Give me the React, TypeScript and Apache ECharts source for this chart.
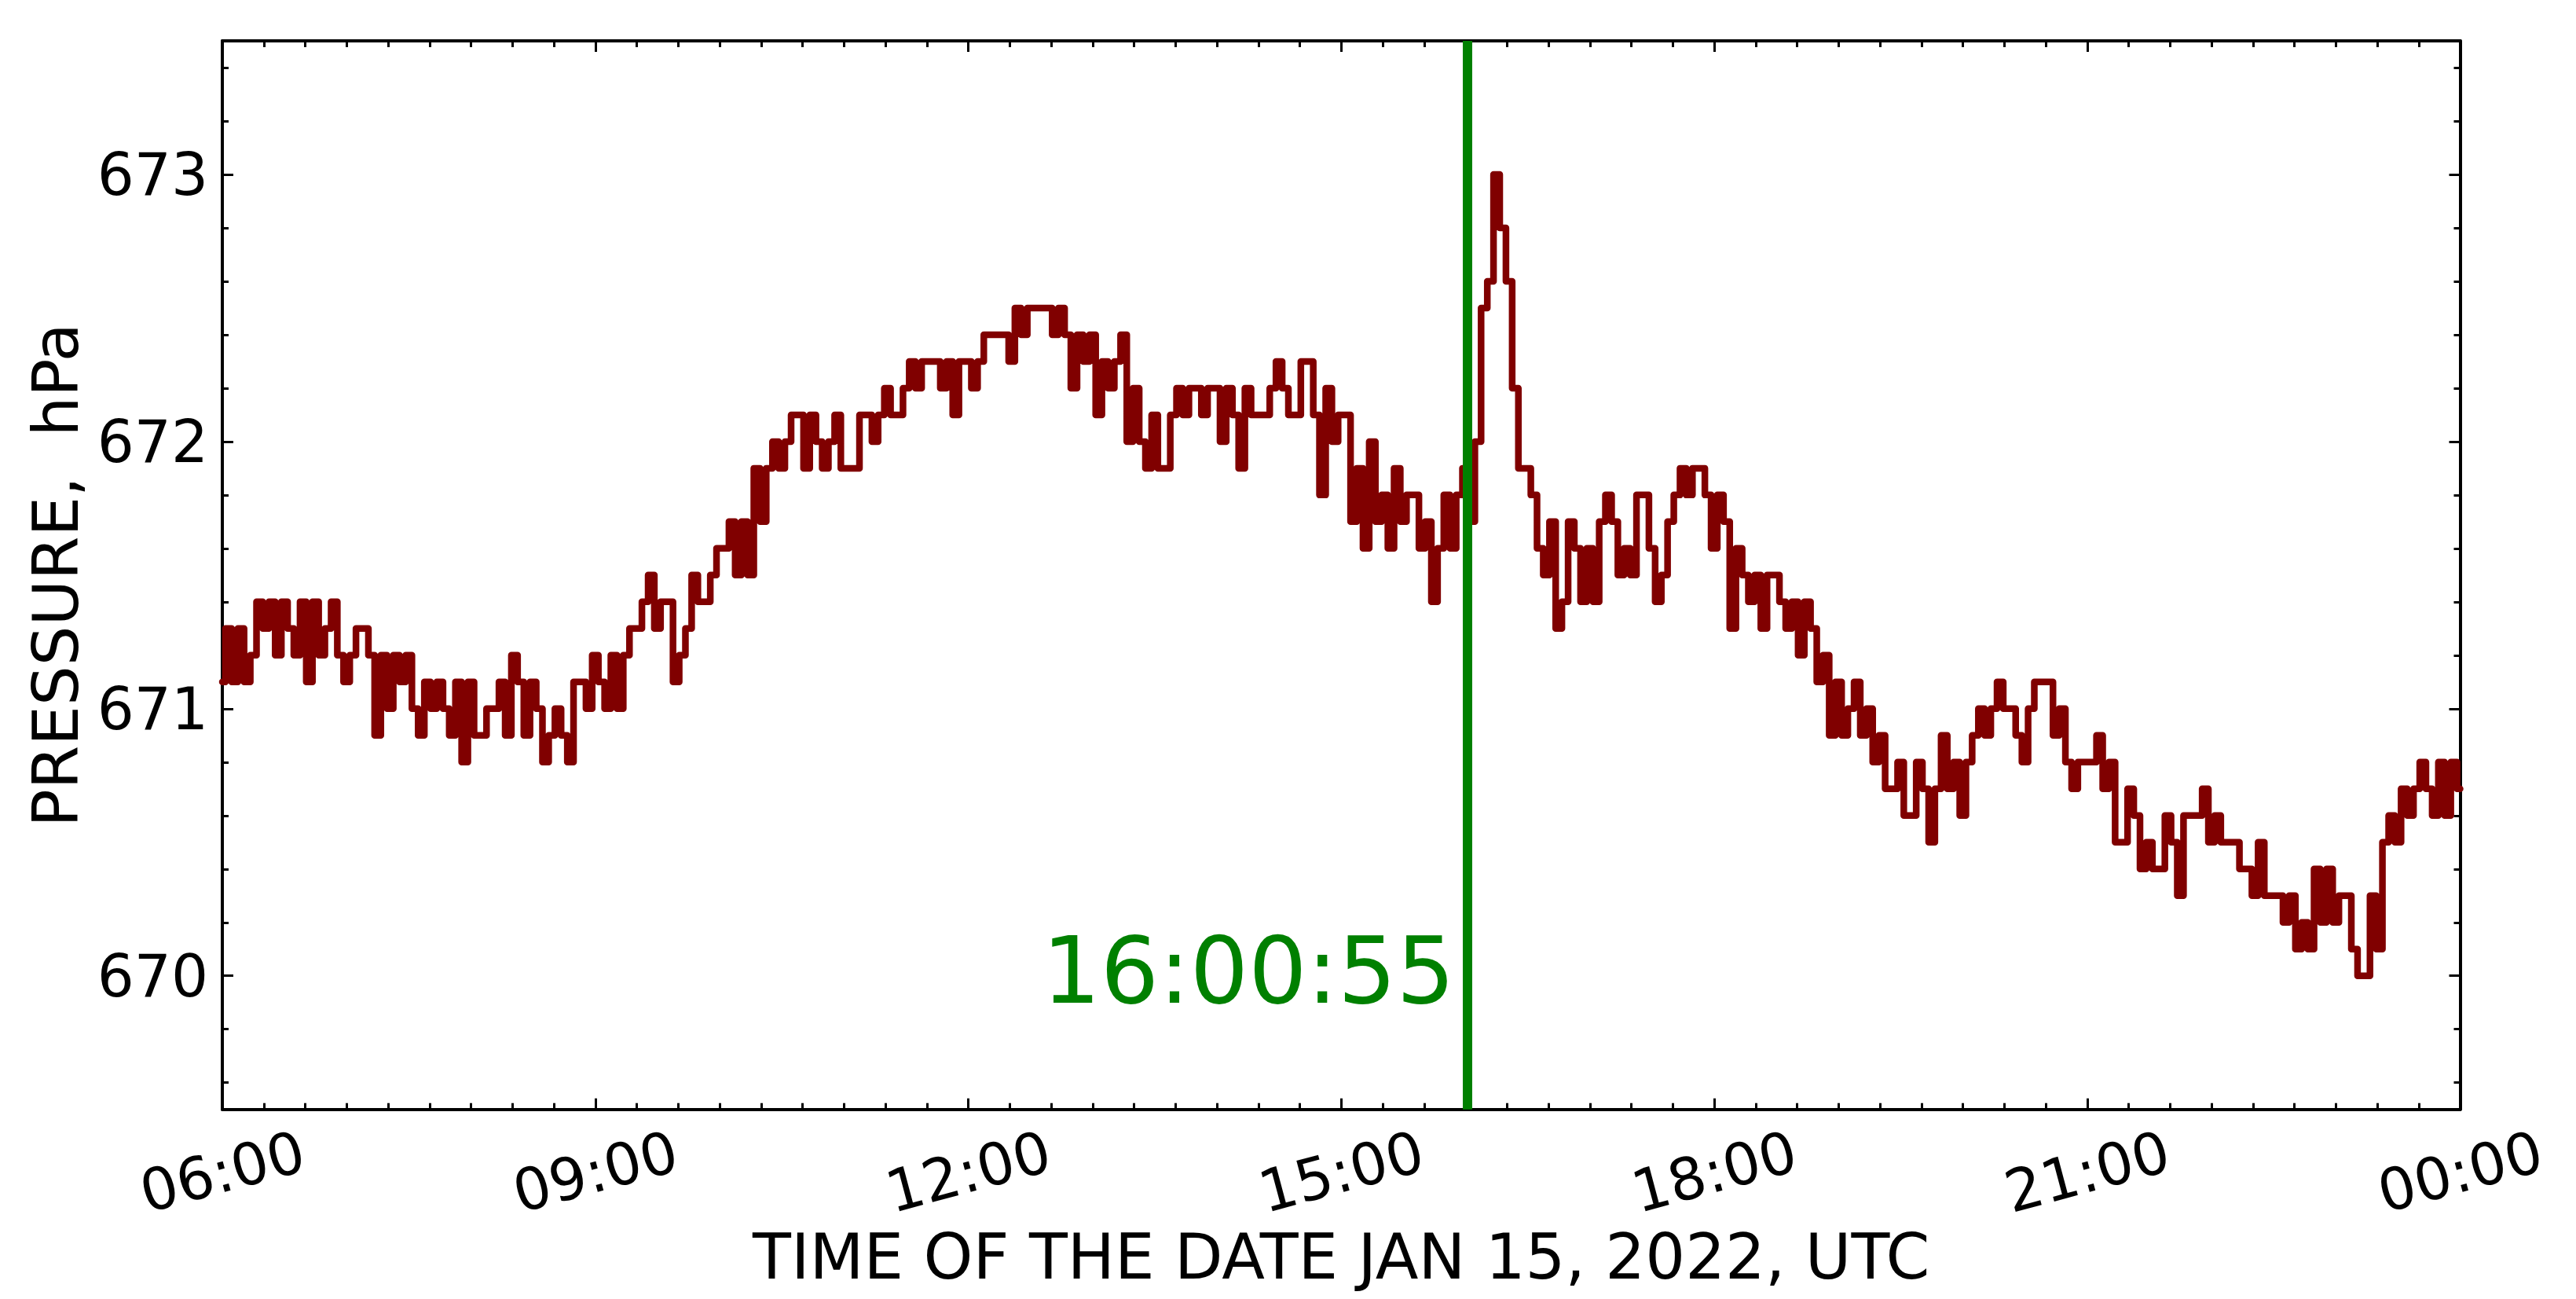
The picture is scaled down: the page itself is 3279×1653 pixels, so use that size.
import React, { useEffect, useRef } from "react";
import * as echarts from "echarts";

// ---- data: surface pressure (hPa), sampled every 3 minutes from 06:00 UTC ----
const START_HOUR = 6;
const SAMPLE_MIN = 3;

const h06 = [671.1, 671.3, 671.1, 671.3, 671.1, 671.2, 671.4, 671.3, 671.4, 671.2, 671.4, 671.3, 671.2, 671.4, 671.1, 671.4, 671.2, 671.3, 671.4, 671.2];
const h07 = [671.1, 671.2, 671.3, 671.3, 671.2, 670.9, 671.2, 671.0, 671.2, 671.1, 671.2, 671.0, 670.9, 671.1, 671.0, 671.1, 671.0, 670.9, 671.1, 670.8];
const h08 = [671.1, 670.9, 670.9, 671.0, 671.0, 671.1, 670.9, 671.2, 671.1, 670.9, 671.1, 671.0, 670.8, 670.9, 671.0, 670.9, 670.8, 671.1, 671.1, 671.0];
const h09 = [671.2, 671.1, 671.0, 671.2, 671.0, 671.2, 671.3, 671.3, 671.4, 671.5, 671.3, 671.4, 671.4, 671.1, 671.2, 671.3, 671.5, 671.4, 671.4, 671.5];
const h10 = [671.6, 671.6, 671.7, 671.5, 671.7, 671.5, 671.9, 671.7, 671.9, 672.0, 671.9, 672.0, 672.1, 672.1, 671.9, 672.1, 672.0, 671.9, 672.0, 672.1];
const h11 = [671.9, 671.9, 671.9, 672.1, 672.1, 672.0, 672.1, 672.2, 672.1, 672.1, 672.2, 672.3, 672.2, 672.3, 672.3, 672.3, 672.2, 672.3, 672.1, 672.3];
const h12 = [672.3, 672.2, 672.3, 672.4, 672.4, 672.4, 672.4, 672.3, 672.5, 672.4, 672.5, 672.5, 672.5, 672.5, 672.4, 672.5, 672.4, 672.2, 672.4, 672.3];
const h13 = [672.4, 672.1, 672.3, 672.2, 672.3, 672.4, 672.0, 672.2, 672.0, 671.9, 672.1, 671.9, 671.9, 672.1, 672.2, 672.1, 672.2, 672.2, 672.1, 672.2];
const h14 = [672.2, 672.0, 672.2, 672.1, 671.9, 672.2, 672.1, 672.1, 672.1, 672.2, 672.3, 672.2, 672.1, 672.1, 672.3, 672.3, 672.1, 671.8, 672.2, 672.0];
const h15 = [672.1, 672.1, 671.7, 671.9, 671.6, 672.0, 671.7, 671.8, 671.6, 671.9, 671.7, 671.8, 671.8, 671.6, 671.7, 671.4, 671.6, 671.8, 671.6, 671.8];
const h16 = [671.9, 671.7, 672.0, 672.5, 672.6, 673.0, 672.8, 672.6, 672.2, 671.9, 671.9, 671.8, 671.6, 671.5, 671.7, 671.3, 671.4, 671.7, 671.6, 671.4];
const h17 = [671.6, 671.4, 671.7, 671.8, 671.7, 671.5, 671.6, 671.5, 671.8, 671.8, 671.6, 671.4, 671.5, 671.7, 671.8, 671.9, 671.8, 671.9, 671.9, 671.8];
const h18 = [671.6, 671.8, 671.7, 671.3, 671.6, 671.5, 671.4, 671.5, 671.3, 671.5, 671.5, 671.4, 671.3, 671.4, 671.2, 671.4, 671.3, 671.1, 671.2, 670.9];
const h19 = [671.1, 670.9, 671.0, 671.1, 670.9, 671.0, 670.8, 670.9, 670.7, 670.7, 670.8, 670.6, 670.6, 670.8, 670.7, 670.5, 670.7, 670.9, 670.7, 670.8];
const h20 = [670.6, 670.8, 670.9, 671.0, 670.9, 671.0, 671.1, 671.0, 671.0, 670.9, 670.8, 671.0, 671.1, 671.1, 671.1, 670.9, 671.0, 670.8, 670.7, 670.8];
const h21 = [670.8, 670.8, 670.9, 670.7, 670.8, 670.5, 670.5, 670.7, 670.6, 670.4, 670.5, 670.4, 670.4, 670.6, 670.5, 670.3, 670.6, 670.6, 670.6, 670.7];
const h22 = [670.5, 670.6, 670.5, 670.5, 670.5, 670.4, 670.4, 670.3, 670.5, 670.3, 670.3, 670.3, 670.2, 670.3, 670.1, 670.2, 670.1, 670.4, 670.2, 670.4];
const h23 = [670.2, 670.3, 670.3, 670.1, 670.0, 670.0, 670.3, 670.1, 670.5, 670.6, 670.5, 670.7, 670.6, 670.7, 670.8, 670.7, 670.6, 670.8, 670.6, 670.8];
const h24 = [670.7];

const PRESSURE = [...h06, ...h07, ...h08, ...h09, ...h10, ...h11, ...h12, ...h13, ...h14, ...h15, ...h16, ...h17, ...h18, ...h19, ...h20, ...h21, ...h22, ...h23, ...h24];

const X_TICK_LABELS = ["06:00", "09:00", "12:00", "15:00", "18:00", "21:00", "00:00"];
const X_TICK_STEP_MIN = 180;
const X_SPAN_MIN = 1080;
const Y_MIN = 669.5;
const Y_MAX = 673.5;

const EVENT_TIME = "16:00:55";
const EVENT_LABEL_Y = 669.9;

const X_TITLE = "TIME OF THE DATE JAN 15, 2022, UTC";
const Y_TITLE = "PRESSURE,  hPa";

const FONT = '"DejaVu Sans", "Liberation Sans", sans-serif';

function minutesFromStart(hms: string): number {
  const [h, m, s] = hms.split(":").map(Number);
  return (h - START_HOUR) * 60 + m + s / 60;
}

export default function App() {
  const ref = useRef<HTMLDivElement>(null);

  useEffect(() => {
    if (!ref.current) return;
    const chart = echarts.init(ref.current, null, { renderer: "svg" });
    const eventMin = minutesFromStart(EVENT_TIME);
    const data = PRESSURE.map((v, i) => [i * SAMPLE_MIN, v]);

    const axisLine = { show: true, onZero: false, lineStyle: { color: "#000", width: 4 } };
    const axisTick = { show: true, inside: true, length: 14, lineStyle: { color: "#000", width: 3 } };
    const minorLine = { color: "#000", width: 3 };

    const xBase = {
      type: "value",
      min: 0,
      max: X_SPAN_MIN,
      interval: X_TICK_STEP_MIN,
      axisLine,
      axisTick,
      minorTick: { show: true, splitNumber: 9, length: 8, lineStyle: minorLine },
      splitLine: { show: false },
      minorSplitLine: { show: false },
    };
    const yBase = {
      type: "value",
      min: Y_MIN,
      max: Y_MAX,
      splitNumber: 4,
      minInterval: 1,
      maxInterval: 1,
      axisLine,
      axisTick,
      minorTick: { show: true, splitNumber: 5, length: 8, lineStyle: minorLine },
      splitLine: { show: false },
      minorSplitLine: { show: false },
    };

    const option: any = {
      animation: false,
      backgroundColor: "#ffffff",
      grid: {
        left: 283,
        right: 147.5,
        top: 52,
        bottom: 241.3,
        containLabel: false,
        outerBoundsMode: "none",
      },
      xAxis: [
        {
          ...xBase,
          position: "bottom",
          axisLabel: {
            show: true,
            rotate: 15,
            align: "center",
            verticalAlign: "middle",
            margin: 79,
            fontSize: 74,
            fontFamily: FONT,
            color: "#000",
            showMinLabel: true,
            showMaxLabel: true,
            formatter: (v: number) => X_TICK_LABELS[Math.round(v / X_TICK_STEP_MIN)] ?? "",
          },
          name: X_TITLE,
          nameLocation: "middle",
          nameGap: 142,
          nameTextStyle: { fontSize: 80, fontFamily: FONT, color: "#000" },
        },
        { ...xBase, position: "top", axisLabel: { show: false } },
      ],
      yAxis: [
        {
          ...yBase,
          position: "left",
          axisLabel: {
            show: true,
            margin: 18,
            fontSize: 74,
            fontFamily: FONT,
            color: "#000",
            formatter: (v: number) => (Math.abs(v - Math.round(v)) < 1e-6 ? String(Math.round(v)) : ""),
          },
          name: Y_TITLE,
          nameLocation: "middle",
          nameRotate: 90,
          nameGap: 172,
          nameTextStyle: { fontSize: 80, fontFamily: FONT, color: "#000" },
        },
        { ...yBase, position: "right", axisLabel: { show: false } },
      ],
      series: [
        {
          type: "line",
          name: "event",
          data: [],
          xAxisIndex: 0,
          yAxisIndex: 0,
          z: 1,
          markLine: {
            silent: true,
            symbol: ["none", "none"],
            label: { show: false },
            lineStyle: { color: "#008000", width: 12, type: "solid" },
            emphasis: { disabled: true },
            data: [{ xAxis: eventMin }],
          },
        },
        {
          type: "line",
          name: "pressure",
          data,
          xAxisIndex: 0,
          yAxisIndex: 0,
          z: 3,
          showSymbol: false,
          symbol: "none",
          step: "middle",
          lineStyle: { color: "#800000", width: 8.5, join: "round", cap: "round" },
        },
      ],
    };

    chart.setOption(option);

    const [px, py] = chart.convertToPixel({ xAxisIndex: 0, yAxisIndex: 0 }, [eventMin, EVENT_LABEL_Y]) as number[];
    const labelSize = 117;
    chart.setOption({
      graphic: [
        {
          type: "text",
          x: px - 16,
          y: py - 0.346 * labelSize,
          z: 10,
          style: {
            text: EVENT_TIME,
            fill: "#008000",
            fontSize: labelSize,
            fontFamily: FONT,
            align: "right",
            verticalAlign: "middle",
            textAlign: "right",
            textVerticalAlign: "middle",
          },
        },
      ],
    });

    return () => chart.dispose();
  }, []);

  return (
    <div
      ref={ref}
      style={{ position: "fixed", left: 0, top: 0, width: 3279, height: 1653, background: "#fff" }}
    />
  );
}
